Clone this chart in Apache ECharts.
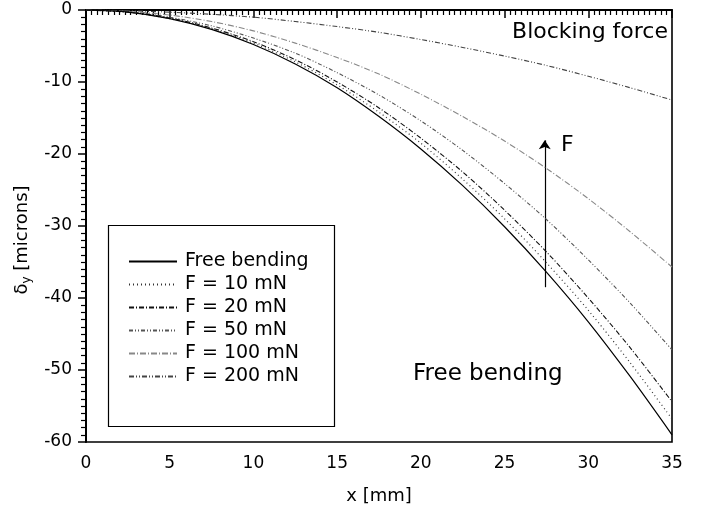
<!DOCTYPE html>
<html>
<head>
<meta charset="utf-8">
<script src="https://cdn.jsdelivr.net/npm/echarts@6/dist/echarts.min.js"></script>
<style>
  html, body { margin: 0; padding: 0; background: #fff; }
  #grafica { width: 712px; height: 521px; }
</style>
</head>
<body>
<div id="grafica"></div>
<script>
// x positions along the beam [mm]
var posX = [0, 2.5, 5, 7.5, 10, 12.5, 15, 17.5, 20, 22.5, 25, 27.5, 30, 32.5, 35];

// deflection delta_y [microns]
var freeBending = [0, -0.3, -1.2, -2.7, -4.8, -7.5, -10.8, -14.8, -19.3, -24.4, -30.1, -36.4, -43.3, -50.9, -59.0];
var f10 = [0, -0.3, -1.2, -2.6, -4.6, -7.2, -10.4, -14.2, -18.5, -23.5, -29.0, -35.1, -41.7, -49.0, -56.8];
var f20 = [0, -0.3, -1.1, -2.5, -4.4, -6.9, -10.0, -13.6, -17.8, -22.5, -27.8, -33.6, -40.0, -46.9, -54.4];
var f50 = [0, -0.2, -1.0, -2.2, -3.9, -6.0, -8.7, -11.8, -15.4, -19.5, -24.1, -29.1, -34.7, -40.7, -47.2];
var f100 = [0, -0.2, -0.7, -1.6, -2.9, -4.6, -6.6, -8.9, -11.7, -14.8, -18.2, -22.0, -26.2, -30.8, -35.7];
var f200 = [0, -0.1, -0.3, -0.6, -1.0, -1.6, -2.3, -3.1, -4.1, -5.2, -6.4, -7.7, -9.2, -10.8, -12.5];

var nombres = ['Free bending', 'F = 10 mN', 'F = 20 mN', 'F = 50 mN', 'F = 100 mN', 'F = 200 mN'];
var curvas = [freeBending, f10, f20, f50, f100, f200];

var fuente = 'DejaVu Sans';

// line looks of each curve
var estilos = [
  { color: '#000', width: 1.2, type: 'solid' },
  { color: '#333', width: 1.2, type: [1, 3] },
  { color: '#111', width: 1.1, type: [5, 2, 1, 2] },
  { color: '#555', width: 1.1, type: [4, 2, 1, 2, 1, 2] },
  { color: '#888', width: 1.1, type: [6, 2, 1, 2] },
  { color: '#444', width: 1.1, type: [5, 2, 1, 2, 1, 2] }
];

function aPares(valores) {
  return posX.map(function (x, i) { return [x, valores[i]]; });
}

var series = curvas.map(function (valores, i) {
  var s = {
    name: nombres[i],
    type: 'line',
    data: aPares(valores),
    symbol: 'none',
    smooth: 0.3,
    lineStyle: estilos[i],
    itemStyle: { color: estilos[i].color },
    z: 10 - i
  };
  if (i === 0) {
    // arrow showing direction of increasing F
    s.markLine = {
      silent: true,
      symbol: ['none', 'arrow'],
      symbolSize: 9,
      label: { show: false },
      lineStyle: { color: '#000', width: 1.2, type: 'solid' },
      data: [[{ coord: [27.4, -38.5] }, { coord: [27.4, -18.1] }]]
    };
  }
  return s;
});

var chart = echarts.init(document.getElementById('grafica'));

var option = {
  animation: false,
  backgroundColor: '#fff',
  textStyle: { fontFamily: fuente },
  grid: {
    left: 86, right: 40, top: 10, bottom: 79,
    show: true, borderColor: '#000', borderWidth: 1.6
  },
  legend: {
    orient: 'vertical',
    left: 123,
    top: 247,
    itemWidth: 48,
    itemHeight: 10,
    itemGap: 4,
    itemStyle: { opacity: 0 },
    textStyle: { fontFamily: fuente, fontSize: 19, lineHeight: 18, color: '#000', padding: [0, 0, 0, 3] },
    data: nombres
  },
  xAxis: {
    type: 'value',
    min: 0, max: 35, interval: 5,
    name: 'x [mm]',
    nameLocation: 'middle',
    nameGap: 45,
    nameTextStyle: { fontFamily: fuente, fontSize: 18, color: '#000' },
    axisLine: { show: true, lineStyle: { color: '#000', width: 2 } },
    axisTick: { show: true, inside: false, length: 8, lineStyle: { color: '#000', width: 1.5 } },
    minorTick: { show: true, splitNumber: 15, length: 5, lineStyle: { color: '#000', width: 1.2 } },
    axisLabel: { fontFamily: fuente, fontSize: 17, color: '#000', margin: 13 },
    splitLine: { show: false }
  },
  yAxis: {
    type: 'value',
    min: -60, max: 0, interval: 10,
    axisLine: { show: true, onZero: false, lineStyle: { color: '#000', width: 2 } },
    axisTick: { show: true, inside: false, length: 8, lineStyle: { color: '#000', width: 1.5 } },
    minorTick: { show: true, splitNumber: 10, length: 5, lineStyle: { color: '#000', width: 1.2 } },
    axisLabel: { fontFamily: fuente, fontSize: 17, color: '#000', margin: 14 },
    splitLine: { show: false }
  },
  graphic: [
    // legend frame
    { type: 'rect', left: 106, top: 223, shape: { width: 226, height: 201 }, style: { fill: 'none', stroke: '#000', lineWidth: 1.2 }, z: 5 },
    // y axis title, rotated
    {
      type: 'text', x: 22, y: 240, rotation: Math.PI / 2, z: 20,
      style: {
        text: '{a|δ}{b|y} [microns]',
        align: 'center', verticalAlign: 'middle',
        font: '18px "DejaVu Sans"', fill: '#000',
        rich: {
          a: { font: '18px "DejaVu Sans"', fill: '#000' },
          b: { font: '12px "DejaVu Sans"', fill: '#000', padding: [10, 0, 0, 0] }
        }
      }
    },
    { type: 'text', right: 44, top: 21, style: { text: 'Blocking force', font: '22px "DejaVu Sans"', fill: '#000' }, z: 20 },
    { type: 'text', left: 413, top: 363, style: { text: 'Free bending', font: '23px "DejaVu Sans"', fill: '#000' }, z: 20 },
    { type: 'text', left: 561, top: 134, style: { text: 'F', font: '22px "DejaVu Sans"', fill: '#000' }, z: 20 }
  ],
  series: series
};

chart.setOption(option);
</script>
</body>
</html>
